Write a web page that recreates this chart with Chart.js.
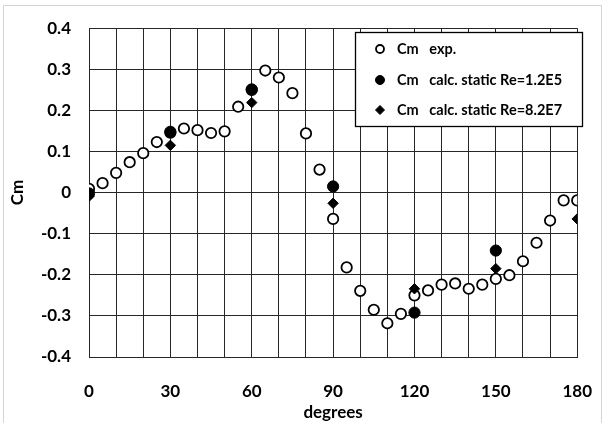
<!DOCTYPE html>
<html>
<head>
<meta charset="utf-8">
<script src="https://cdn.jsdelivr.net/npm/chart.js@4"></script>
<style>
  html, body { margin: 0; padding: 0; background: #fff; }
  #wrap { width: 616px; height: 423px; }
</style>
</head>
<body>
<div id="wrap"><canvas id="c" width="616" height="423"></canvas></div>
<script>
// ---- data ----
const expAngles = [0,5,10,15,20,25,30,35,40,45,50,55,60,65,70,75,80,85,90,95,100,105,110,115,120,125,130,135,140,145,150,155,160,165,170,175,180];
const expCm = [0.009,0.023,0.048,0.074,0.096,0.123,0.146,0.156,0.152,0.145,0.149,0.209,0.250,0.297,0.280,0.242,0.144,0.056,-0.064,-0.182,-0.239,-0.285,-0.318,-0.295,-0.250,-0.238,-0.224,-0.221,-0.234,-0.224,-0.210,-0.201,-0.167,-0.122,-0.068,-0.019,-0.019];
const calcAngles = [0,30,60,90,120,150,180];
const calcRe12E5 = [-0.002,0.148,0.251,0.015,-0.292,-0.141,null];
const calcRe82E7 = [-0.009,0.115,0.219,-0.026,-0.234,-0.185,-0.064];
const seriesLabels = ['Cm   exp.', 'Cm   calc. static Re=1.2E5', 'Cm   calc. static Re=8.2E7'];
const xTickLabels = [0,30,60,90,120,150,180];
const yTickLabels = ['-0.4','-0.3','-0.2','-0.1','0','0.1','0.2','0.3','0.4'];
const xTitle = 'degrees';
const yTitle = 'Cm';

const toPoints = (xs, ys) => xs.map((x, i) => ({x: x, y: ys[i]}));

const FONT = 'Lato, "Liberation Sans", sans-serif';
const GRID = '#262626';

const framePlugin = {
  id: 'frame',
  beforeDraw(chart) {
    const ctx = chart.ctx;
    ctx.save();
    ctx.fillStyle = '#fff';
    ctx.fillRect(0, 0, chart.width, chart.height);
    ctx.strokeStyle = '#d4d4d4';
    ctx.lineWidth = 1;
    ctx.strokeRect(3.5, 5.5, 598, 430);
    ctx.restore();
  }
};

const legendBoxPlugin = {
  id: 'legendBox',
  afterDraw(chart) {
    const ctx = chart.ctx;
    const x0 = 355, y0 = 32, w = 227, h = 94;
    ctx.save();
    ctx.fillStyle = '#fff';
    ctx.fillRect(x0, y0, w, h);
    ctx.strokeStyle = '#000';
    ctx.lineWidth = 1.3;
    ctx.strokeRect(x0 + 0.5, y0 + 0.5, w, h);
    const rows = [49, 80, 110];
    chart.data.datasets.forEach((ds, i) => {
      const y = rows[i];
      ctx.fillStyle = ds.pointBackgroundColor;
      ctx.strokeStyle = ds.pointBorderColor;
      ctx.lineWidth = ds.pointBorderWidth;
      Chart.helpers.drawPoint(ctx, {
        pointStyle: ds.pointStyle,
        radius: i === 0 ? 4 : 4.5,
        borderWidth: ds.pointBorderWidth,
        rotation: 0
      }, 380, y);
      ctx.fillStyle = '#000';
      ctx.font = 'bold 14.5px ' + FONT;
      ctx.textBaseline = 'middle';
      ctx.textAlign = 'left';
      ctx.fillText(ds.label, 397, y);
    });
    ctx.restore();
  }
};

new Chart(document.getElementById('c'), {
  type: 'scatter',
  data: {
    datasets: [
      {
        label: seriesLabels[0],
        data: toPoints(expAngles, expCm),
        pointStyle: 'circle',
        pointRadius: 5.2,
        pointBorderWidth: 1.8,
        pointBorderColor: '#000',
        pointBackgroundColor: '#fff',
        showLine: false,
        order: 3
      },
      {
        label: seriesLabels[1],
        data: toPoints(calcAngles, calcRe12E5),
        pointStyle: 'circle',
        pointRadius: 5.6,
        pointBorderWidth: 1,
        pointBorderColor: '#000',
        pointBackgroundColor: '#000',
        showLine: false,
        order: 2
      },
      {
        label: seriesLabels[2],
        data: toPoints(calcAngles, calcRe82E7),
        pointStyle: 'rectRot',
        pointRadius: 5.2,
        pointBorderWidth: 1,
        pointBorderColor: '#000',
        pointBackgroundColor: '#000',
        showLine: false,
        order: 1
      }
    ]
  },
  options: {
    responsive: false,
    animation: false,
    devicePixelRatio: 1,
    layout: { padding: { top: 19, right: 23, left: 0, bottom: 0 } },
    plugins: {
      legend: { display: false },
      tooltip: { enabled: false }
    },
    scales: {
      x: {
        type: 'linear',
        min: 0, max: 180,
        afterFit(s) { s.height = 66; },
        grid: { color: GRID, lineWidth: 1, drawTicks: false },
        border: { color: GRID, width: 1 },
        ticks: {
          stepSize: 10,
          autoSkip: false,
          maxRotation: 0,
          padding: 24,
          color: '#000',
          font: { family: FONT, size: 17, weight: 'bold' },
          callback(v) { return xTickLabels.includes(v) ? String(v) : ''; }
        },
        title: {
          display: true, text: xTitle, color: '#000',
          font: { family: FONT, size: 17, weight: 'bold' },
          padding: { top: 0, bottom: 0 }
        }
      },
      y: {
        type: 'linear',
        min: -0.4, max: 0.4,
        afterFit(s) { s.width = 89; },
        grid: { color: GRID, lineWidth: 1, drawTicks: false },
        border: { color: GRID, width: 1 },
        ticks: {
          stepSize: 0.1,
          padding: 18,
          color: '#000',
          font: { family: FONT, size: 17, weight: 'bold' },
          callback(v) {
            const k = Math.round(v * 10);
            return yTickLabels[k + 4];
          }
        },
        title: {
          display: true, text: yTitle, color: '#000',
          font: { family: FONT, size: 17, weight: 'bold' },
          padding: { top: 7, bottom: 0 }
        }
      }
    }
  },
  plugins: [framePlugin, legendBoxPlugin]
});
</script>
</body>
</html>
